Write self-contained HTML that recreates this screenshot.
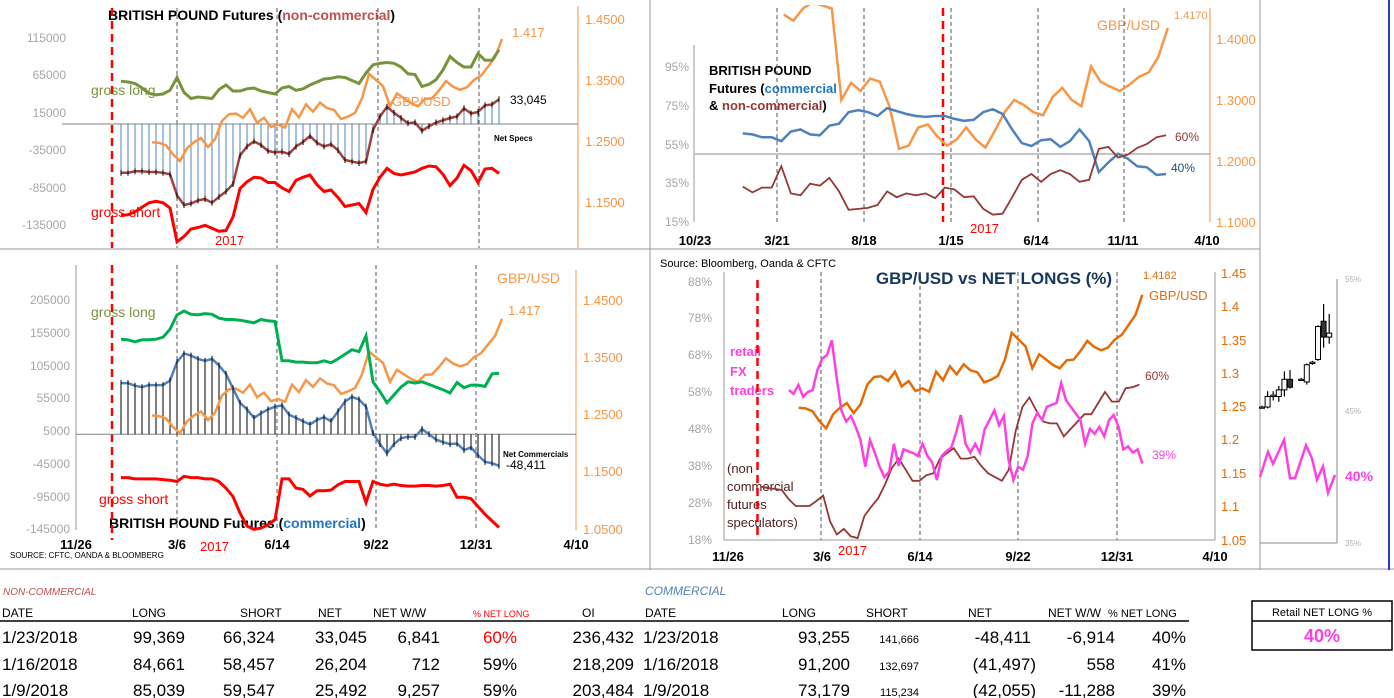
<!DOCTYPE html>
<html><head><meta charset="utf-8"><style>
html,body{margin:0;padding:0;background:#fff;}
svg{display:block;font-family:"Liberation Sans",sans-serif;}
.ax{fill:#a6a6a6;font-size:12px;}
.or{fill:#f79646;font-size:13px;}
.tk{fill:#000;font-size:13px;font-weight:bold;}
.tb{font-size:17px;fill:#000;}
.th{font-size:12px;fill:#000;}
</style></head><body>
<svg id="c" width="1394" height="698" viewBox="0 0 1394 698" xmlns="http://www.w3.org/2000/svg">
<rect width="1394" height="698" fill="#fff"/>
<!-- dividers -->
<line x1="650" y1="0" x2="650" y2="570" stroke="#999"/>
<line x1="0" y1="249" x2="1260" y2="249" stroke="#999"/>
<line x1="0" y1="569" x2="1394" y2="569" stroke="#999"/>
<line x1="1260" y1="0" x2="1260" y2="570" stroke="#999"/>
<line x1="1389" y1="0" x2="1389" y2="570" stroke="#1f3fd0" stroke-width="2"/>

<!-- PANEL 1 static -->
<g>
<text x="108" y="20" font-size="14" font-weight="bold">BRITISH POUND Futures (<tspan fill="#c0504d">non-commercial</tspan>)</text>
<g class="ax" text-anchor="end">
<text x="66" y="42">115000</text><text x="66" y="79">65000</text><text x="66" y="117">15000</text><text x="66" y="154">-35000</text><text x="66" y="192">-85000</text><text x="66" y="229">-135000</text></g>
<line x1="578" y1="6" x2="578" y2="248" stroke="#f79646"/>
<g class="or">
<text x="585" y="24">1.4500</text><text x="585" y="85">1.3500</text><text x="585" y="146">1.2500</text><text x="585" y="207">1.1500</text></g>
<text x="91" y="95" fill="#77933c" font-size="14">gross long</text>
<text x="91" y="217" fill="#ff0000" font-size="14">gross short</text>
<text x="215" y="245" fill="#ff0000" font-size="13">2017</text>
<text x="512" y="37" class="or">1.417</text>
<text x="510" y="104" font-size="12">33,045</text>
<text x="494" y="141" font-size="8" font-weight="bold">Net Specs</text>
<text x="392" y="106" fill="#f79646" font-size="13">GBP/USD</text>
</g>

<!-- PANEL 2 static -->
<g>
<line x1="76" y1="265" x2="76" y2="530" stroke="#999"/>
<g class="ax" text-anchor="end">
<text x="70" y="304">205000</text><text x="70" y="337">155000</text><text x="70" y="370">105000</text><text x="70" y="402">55000</text><text x="70" y="435">5000</text><text x="70" y="468">-45000</text><text x="70" y="501">-95000</text><text x="70" y="533">-145000</text></g>
<line x1="576" y1="270" x2="576" y2="530" stroke="#f79646"/>
<g class="or">
<text x="583" y="305">1.4500</text><text x="583" y="362">1.3500</text><text x="583" y="419">1.2500</text><text x="583" y="476">1.1500</text><text x="583" y="534">1.0500</text></g>
<g class="tk" text-anchor="middle">
<text x="76" y="549">11/26</text><text x="177" y="549">3/6</text><text x="277" y="549">6/14</text><text x="376" y="549">9/22</text><text x="476" y="549">12/31</text><text x="576" y="549">4/10</text></g>
<text x="200" y="551" fill="#ff0000" font-size="13">2017</text>
<text x="91" y="317" fill="#77933c" font-size="14">gross long</text>
<text x="99" y="504" fill="#ff0000" font-size="14">gross short</text>
<text x="109" y="528" font-size="14" font-weight="bold">BRITISH POUND Futures (<tspan fill="#1f77c0">commercial</tspan>)</text>
<text x="10" y="558" font-size="8">SOURCE: CFTC, OANDA &amp; BLOOMBERG</text>
<text x="497" y="283" fill="#f79646" font-size="14">GBP/USD</text>
<text x="508" y="315" class="or">1.417</text>
<text x="503" y="457" font-size="8" font-weight="bold">Net Commercials</text>
<text x="506" y="469" font-size="12">-48,411</text>
</g>

<!-- PANEL 3 static -->
<g>
<line x1="694" y1="45" x2="694" y2="222" stroke="#999"/>
<g class="ax" text-anchor="end">
<text x="689" y="71">95%</text><text x="689" y="110">75%</text><text x="689" y="149">55%</text><text x="689" y="187">35%</text><text x="689" y="226">15%</text></g>
<line x1="1210" y1="8" x2="1210" y2="222" stroke="#f79646"/>
<g class="or">
<text x="1216" y="44">1.4000</text><text x="1216" y="105">1.3000</text><text x="1216" y="166">1.2000</text><text x="1216" y="227">1.1000</text></g>
<line x1="695" y1="154" x2="1210" y2="154" stroke="#888"/>
<g class="tk" text-anchor="middle">
<text x="695" y="245">10/23</text><text x="777" y="245">3/21</text><text x="864" y="245">8/18</text><text x="951" y="245">1/15</text><text x="1036" y="245">6/14</text><text x="1123" y="245">11/11</text><text x="1207" y="245">4/10</text></g>
<text x="970" y="233" fill="#ff0000" font-size="13">2017</text>
<text x="709" y="75" font-size="13" font-weight="bold">BRITISH POUND</text>
<text x="709" y="93" font-size="13" font-weight="bold">Futures (<tspan fill="#1f77c0">commercial</tspan></text>
<text x="709" y="110" font-size="13" font-weight="bold">&amp; <tspan fill="#953735">non-commercial</tspan>)</text>
<text x="1097" y="30" fill="#f79646" font-size="14">GBP/USD</text>
<text x="1174" y="19" fill="#f79646" font-size="11">1.4170</text>
<text x="1175" y="141" fill="#953735" font-size="12">60%</text>
<text x="1171" y="172" fill="#1f4e79" font-size="12">40%</text>
</g>

<!-- PANEL 4 static -->
<g>
<text x="660" y="267" font-size="11">Source: Bloomberg, Oanda &amp; CFTC</text>
<text x="994" y="284" text-anchor="middle" fill="#17375e" font-size="17" font-weight="bold">GBP/USD vs NET LONGS (%)</text>
<line x1="724" y1="272" x2="724" y2="540" stroke="#999"/>
<g class="ax" text-anchor="end">
<text x="712" y="286">88%</text><text x="712" y="322">78%</text><text x="712" y="359">68%</text><text x="712" y="396">58%</text><text x="712" y="433">48%</text><text x="712" y="470">38%</text><text x="712" y="507">28%</text><text x="712" y="544">18%</text></g>
<line x1="1215" y1="272" x2="1215" y2="540" stroke="#999"/>
<g fill="#e36c09" font-size="13">
<text x="1221" y="278">1.45</text><text x="1221" y="311">1.4</text><text x="1221" y="345">1.35</text><text x="1221" y="378">1.3</text><text x="1221" y="411">1.25</text><text x="1221" y="444">1.2</text><text x="1221" y="478">1.15</text><text x="1221" y="511">1.1</text><text x="1221" y="545">1.05</text></g>
<g class="tk" text-anchor="middle">
<text x="728" y="561">11/26</text><text x="822" y="561">3/6</text><text x="920" y="561">6/14</text><text x="1018" y="561">9/22</text><text x="1117" y="561">12/31</text><text x="1215" y="561">4/10</text></g>
<text x="838" y="555" fill="#ff0000" font-size="13">2017</text>
<g fill="#ff40e0" font-size="13" font-weight="bold">
<text x="730" y="356">retail</text><text x="730" y="376">FX</text><text x="730" y="395">traders</text></g>
<g fill="#4a1f1f" font-size="13">
<text x="727" y="473">(non</text><text x="727" y="491">commercial</text><text x="727" y="509">futures</text><text x="727" y="527">speculators)</text></g>
<text x="1143" y="279" fill="#e36c09" font-size="11">1.4182</text>
<text x="1149" y="300" fill="#e36c09" font-size="13">GBP/USD</text>
<text x="1145" y="380" fill="#953735" font-size="12">60%</text>
<text x="1152" y="459" fill="#ff40e0" font-size="12">39%</text>
</g>

<!-- MINI PANEL static -->
<g>
<line x1="1337" y1="279" x2="1337" y2="543" stroke="#888"/>
<g fill="#b0b0b0" font-size="8">
<text x="1345" y="282">55%</text><text x="1345" y="414">45%</text><text x="1345" y="546">35%</text></g>
<line x1="1260" y1="543" x2="1337" y2="543" stroke="#888"/>
<text x="1345" y="481" fill="#ff40e0" font-size="14" font-weight="bold">40%</text>
</g>

<!-- TABLE -->
<g>
<text x="3" y="595" fill="#c0504d" font-size="10" font-style="italic">NON-COMMERCIAL</text>
<text x="645" y="595" fill="#4f81bd" font-size="12" font-style="italic">COMMERCIAL</text>
<g class="th">
<text x="2" y="617">DATE</text><text x="132" y="617">LONG</text><text x="240" y="617">SHORT</text><text x="318" y="617">NET</text><text x="373" y="617">NET W/W</text><text x="473" y="617" fill="#ff0000" font-size="9">% NET LONG</text><text x="582" y="617">OI</text><text x="645" y="617">DATE</text><text x="782" y="617">LONG</text><text x="866" y="617">SHORT</text><text x="968" y="617">NET</text><text x="1048" y="617">NET W/W</text><text x="1108" y="617" font-size="11">% NET LONG</text></g>
<line x1="0" y1="621" x2="1189" y2="621" stroke="#000" stroke-width="1.5"/>
<g class="tb"><text x="2" y="643">1/23/2018</text><text x="185" y="643" text-anchor="end">99,369</text><text x="275" y="643" text-anchor="end">66,324</text><text x="367" y="643" text-anchor="end">33,045</text><text x="440" y="643" text-anchor="end">6,841</text><text x="517" y="643" text-anchor="end" fill="#ff0000">60%</text><text x="634" y="643" text-anchor="end">236,432</text><text x="643" y="643">1/23/2018</text><text x="850" y="643" text-anchor="end">93,255</text><text x="919" y="643" text-anchor="end" font-size="11">141,666</text><text x="1031" y="643" text-anchor="end">-48,411</text><text x="1115" y="643" text-anchor="end">-6,914</text><text x="1186" y="643" text-anchor="end">40%</text></g>
<g class="tb"><text x="2" y="670">1/16/2018</text><text x="185" y="670" text-anchor="end">84,661</text><text x="275" y="670" text-anchor="end">58,457</text><text x="367" y="670" text-anchor="end">26,204</text><text x="440" y="670" text-anchor="end">712</text><text x="517" y="670" text-anchor="end">59%</text><text x="634" y="670" text-anchor="end">218,209</text><text x="643" y="670">1/16/2018</text><text x="850" y="670" text-anchor="end">91,200</text><text x="919" y="670" text-anchor="end" font-size="11">132,697</text><text x="1036" y="670" text-anchor="end">(41,497)</text><text x="1115" y="670" text-anchor="end">558</text><text x="1186" y="670" text-anchor="end">41%</text></g>
<g class="tb"><text x="2" y="696">1/9/2018</text><text x="185" y="696" text-anchor="end">85,039</text><text x="275" y="696" text-anchor="end">59,547</text><text x="367" y="696" text-anchor="end">25,492</text><text x="440" y="696" text-anchor="end">9,257</text><text x="517" y="696" text-anchor="end">59%</text><text x="634" y="696" text-anchor="end">203,484</text><text x="643" y="696">1/9/2018</text><text x="850" y="696" text-anchor="end">73,179</text><text x="919" y="696" text-anchor="end" font-size="11">115,234</text><text x="1036" y="696" text-anchor="end">(42,055)</text><text x="1115" y="696" text-anchor="end">-11,288</text><text x="1186" y="696" text-anchor="end">39%</text></g>
<rect x="1252" y="601" width="140" height="49" fill="none" stroke="#000" stroke-width="1.5"/>
<line x1="1252" y1="621" x2="1392" y2="621" stroke="#000" stroke-width="1.5"/>
<text x="1322" y="616" text-anchor="middle" font-size="11">Retail NET LONG %</text>
<text x="1322" y="642" text-anchor="middle" fill="#ff40e0" font-size="18" font-weight="bold">40%</text>
</g>
<g id="marks"></g>
</svg>
<script>
// ---- data (weekly CFTC from 2017-01-10, thousands) ----
const cftcStartDay = 45; // days after 2016-11-26
const ncNet = [-65,-65,-63,-63,-64,-64,-65,-67,-95,-108,-106,-102,-100,-105,-97,-90,-80,-42,-30,-23,-28,-36,-38,-37,-40,-30,-24,-16,-25,-30,-27,-35,-48,-50,-52,-50,-8,10,23,15,8,1,2,-9,-3,2,5,8,10,21,14,16,25,26,33];
const ncLong = [57,56,54,48,41,39,40,45,62,42,34,36,35,34,46,52,44,44,47,48,44,42,40,48,50,45,47,52,56,60,61,63,62,58,54,68,79,81,82,81,76,67,66,50,53,59,72,90,82,76,76,94,85,85,99];
const ncShort = [122,121,117,111,105,103,105,112,157,150,140,138,135,139,143,142,124,86,77,71,72,78,78,85,90,75,71,68,81,90,88,98,110,108,106,118,87,71,59,66,68,66,64,59,56,57,67,82,72,55,62,78,60,59,66];
const cmNet = [78,78,74,72,75,75,75,82,110,123,120,115,112,115,105,92,70,48,38,25,32,38,42,44,30,25,20,15,22,26,20,35,50,57,53,42,2,-15,-29,-15,-6,-4,-4,8,0,-8,-12,-15,-14,-24,-20,-32,-42,-44,-48];
const cmLong = [145,144,141,144,144,145,148,160,182,188,183,182,184,183,177,175,175,174,172,170,175,173,172,112,112,110,110,109,109,112,109,115,122,129,126,150,80,65,48,60,72,80,78,80,76,72,68,63,79,71,75,75,73,92,93];
const cmShort = [66,66,68,68,68,68,69,70,72,64,66,66,68,68,72,82,95,120,140,145,143,138,130,68,68,82,84,94,86,86,85,77,72,72,72,104,72,76,78,76,78,79,79,78,78,79,78,76,96,96,98,110,122,132,142];
// GBP/USD weekly from 2017-02-10
const gbpStartDay = 76;
const gbpWeekly = [1.248,1.247,1.243,1.228,1.217,1.238,1.248,1.255,1.240,1.253,1.283,1.294,1.295,1.288,1.302,1.280,1.288,1.273,1.277,1.272,1.302,1.289,1.310,1.298,1.313,1.304,1.301,1.286,1.290,1.296,1.320,1.360,1.350,1.340,1.307,1.328,1.320,1.312,1.307,1.319,1.320,1.333,1.348,1.339,1.334,1.338,1.350,1.357,1.372,1.387,1.417];
// Panel 3: long history (days after 2015-10-23)
const p3PctStart = 84, p3PctEnd = 828;
const commPct = [61,60.5,59,59,57,62,63,60.5,60,65,66,72,73,72,70,74,72.5,71,70,69.5,70,70,68.5,67.5,68,72,73.5,71,63,56,54.5,57.5,58,54,57,63,57,41,46,50.5,48,44,43.5,39.5,40];
const ncPct = [33.5,30.5,33,33,44,30,29,35,34,38,31,21.5,22,22.5,24,31,28,30,29,30,27.5,33,32,28,28.5,22,19,19.5,28,37,40,36,40,42,40,36,37,53,54,48.5,50,53.5,55.5,59,60];
const p3GbpStart = 156, p3GbpEnd = 831;
const gbpLong = [1.44,1.43,1.45,1.46,1.455,1.45,1.30,1.328,1.315,1.335,1.33,1.29,1.22,1.225,1.255,1.26,1.24,1.225,1.235,1.255,1.235,1.222,1.25,1.28,1.30,1.292,1.28,1.275,1.305,1.32,1.30,1.29,1.355,1.33,1.322,1.315,1.325,1.338,1.345,1.37,1.418];
// Panel 4
const p4NcStartDay = 38;
const p4NcPct = [32.4,32,31.8,31.5,29,27.2,27.2,27.2,28.5,30,23,19.5,21,19,18.5,24.5,27,29.3,33,37.5,40,37,34,34,35.5,36,40,41.5,42.8,40,40,40.5,38,36,35,34,37,47.5,54,56.5,53,50,49.5,49.5,46,48,50,52,52,55,58,55.4,55.4,59,59.3,60];
const retailStartDay = 66, retailStepDays = 4.866;
const retailPct = [58.5,57.5,59.9,56.7,58,58.5,64,67,68,72,62,53,50,51.5,48.6,45,37.8,45,41.6,37.8,35,36.5,44,38,42.5,42,41.5,40.7,44,40.7,39,34.2,40.7,42,43,47,51.8,44,41.6,44,41.6,48,50.4,53,49,51.5,39.6,34.2,37.8,37,40.7,49.6,52.3,50.5,54,54.5,55,60.4,55.8,54,52.3,50.5,44,48,46.7,48.6,46,50.4,51.8,48.6,42.5,43.3,41.6,42.5,38.7];
// Mini panel candles (trading-day index, % scale)
const candleDay = [0,1,2,3,4,5,7,8,9,10,11,12];
const candleOpen = [45.3,45.3,46.1,46.1,46.6,47.4,47.4,47.2,48.6,48.9,51.8,50.6];
const candleClose = [45.3,46.1,46.2,46.6,47.4,46.8,47.4,48.5,48.7,51.4,50.6,50.9];
const candleHigh = [45.4,46.5,46.5,46.9,48.0,48.1,47.5,48.6,48.8,51.5,53.1,52.35];
const candleLow = [45.2,45.2,45.8,45.7,46.1,46.7,47.3,47.0,48.5,48.8,49.8,50.1];
const miniRetail = [40.0,41.9,41.0,42.8,39.9,39.9,42.4,41.4,39.8,40.8,38.8,40.15];
const miniRetailPos = [0,8,13,24,30,35,46,52,57,63,68,75];

// ---- drawing ----
const NS = 'http://www.w3.org/2000/svg';
const G = document.getElementById('marks');
function el(tag, a, parent){const e=document.createElementNS(NS,tag);for(const k in a)e.setAttribute(k,a[k]);(parent||G).appendChild(e);return e;}
function pathD(xs, ys){return xs.map((x,i)=>(i?'L':'M')+x.toFixed(1)+','+ys[i].toFixed(1)).join('');}
function vline(x,y1,y2,color,dash,w){return el('line',{x1:x,y1:y1,x2:x,y2:y2,stroke:color,'stroke-width':w||1,'stroke-dasharray':dash||'none'});}

// scales
const p1x = d => 76 + d;
const p1y = v => 124 - v*0.75;
const p1r = v => 19 + (1.45 - v)*610;
const p2x = d => 76 + d;
const p2y = v => 434.3 - v*0.656;
const p2r = v => 300 + (1.45 - v)*572;
const p3x = d => 695 + d*0.569;
const p3y = v => 145 - (v - 55)*1.935;
const p3r = v => 161 - (v - 1.2)*610;
const p4x = d => 724 + d*0.982;
const p4y = v => 540 - (v - 18)*3.7;
const p4r = v => 540 - (v - 1.05)*668;
const mx = d => 1262 + d*5.6;
const my = v => 543 - (v - 35)*13.2;

const cftcDays = ncNet.map((_,i)=>cftcStartDay + 7*i);
const gbpDays = gbpWeekly.map((_,i)=>gbpStartDay + 7*i);

// clip for panel 3
const defs = el('defs',{});
const cp = el('clipPath',{id:'p3clip'},defs);
el('rect',{x:650,y:5,width:610,height:244},cp);

// ----- Panel 1 -----
[177,277,378,479].forEach(x=>{
  const g = vline(x,8,248,'#555','4,3');
  
  
});
let e = vline(112,8,248,'#ff0000','8,5',2.5);


e = el('line',{x1:62,y1:124,x2:578,y2:124,stroke:'#808080'});


ncNet.forEach((v,i)=>{
  const b = vline(p1x(cftcDays[i]),p1y(0),p1y(v),'#4f81bd');
  
  
});
e = el('path',{d:pathD(gbpDays.map(p1x),gbpWeekly.map(p1r)),fill:'none',stroke:'#f79646','stroke-width':2.5});


e = el('path',{d:pathD(cftcDays.map(p1x),ncLong.map(p1y)),fill:'none',stroke:'#77933c','stroke-width':3});


e = el('path',{d:pathD(cftcDays.map(p1x),ncShort.map(v=>p1y(-v))),fill:'none',stroke:'#ff0000','stroke-width':3});


e = el('path',{d:pathD(cftcDays.map(p1x),ncNet.map(p1y)),fill:'none',stroke:'#a0413e','stroke-width':2.5});


ncNet.forEach((v,i)=>{
  const m = vline(p1x(cftcDays[i]),p1y(v)-3,p1y(v)+3,'#000');
  
  
});

// ----- Panel 2 -----
[177,277,376,476].forEach(x=>{
  const g = vline(x,265,530,'#555','4,3');
  
  
});
e = vline(112,265,540,'#ff0000','8,5',2.5);


e = el('line',{x1:76,y1:434.3,x2:576,y2:434.3,stroke:'#808080'});


cmNet.forEach((v,i)=>{
  const b = vline(p2x(cftcDays[i]),p2y(0),p2y(v),'#000');
  
  
});
e = el('path',{d:pathD(gbpDays.map(p2x),gbpWeekly.map(p2r)),fill:'none',stroke:'#f79646','stroke-width':2.5});


e = el('path',{d:pathD(cftcDays.map(p2x),cmLong.map(p2y)),fill:'none',stroke:'#00b050','stroke-width':3});


e = el('path',{d:pathD(cftcDays.map(p2x),cmShort.map(v=>p2y(-v))),fill:'none',stroke:'#ff0000','stroke-width':3});


e = el('path',{d:pathD(cftcDays.map(p2x),cmNet.map(p2y)),fill:'none',stroke:'#4f81bd','stroke-width':2.5});


cmNet.forEach((v,i)=>{
  const m = vline(p2x(cftcDays[i]),p2y(v)-3,p2y(v)+3,'#000');
  
  
});

// ----- Panel 3 -----
[777,864,951,1038,1124].forEach(x=>{
  const g = vline(x,8,222,'#555','4,3');
  
  
});
e = vline(943,8,222,'#ff0000','8,5',2.5);


const p3dayAt = (i,n,s,en)=> s + (en - s)*i/(n-1);
e = el('path',{d:pathD(gbpLong.map((_,i)=>p3x(p3dayAt(i,gbpLong.length,p3GbpStart,p3GbpEnd))),gbpLong.map(p3r)),fill:'none',stroke:'#f79646','stroke-width':2.5,'clip-path':'url(#p3clip)'});


e = el('path',{d:pathD(commPct.map((_,i)=>p3x(p3dayAt(i,commPct.length,p3PctStart,p3PctEnd))),commPct.map(p3y)),fill:'none',stroke:'#4f81bd','stroke-width':2.5});


e = el('path',{d:pathD(ncPct.map((_,i)=>p3x(p3dayAt(i,ncPct.length,p3PctStart,p3PctEnd))),ncPct.map(p3y)),fill:'none',stroke:'#953735','stroke-width':1.8});



// ----- Panel 4 -----
[821,920,1018,1117].forEach(x=>{
  const g = vline(x,272,540,'#555','4,3');
  
  
});
e = vline(757.5,280,540,'#ff0000','8,5',2.5);


e = el('line',{x1:724,y1:540,x2:1215,y2:540,stroke:'#999'});


e = el('path',{d:pathD(gbpDays.map(p4x),gbpWeekly.map(p4r)),fill:'none',stroke:'#e36c09','stroke-width':2.5});


e = el('path',{d:pathD(p4NcPct.map((_,i)=>p4x(p4NcStartDay+7*i)),p4NcPct.map(p4y)),fill:'none',stroke:'#953735','stroke-width':1.8});


e = el('path',{d:pathD(retailPct.map((_,i)=>p4x(retailStartDay+retailStepDays*i)),retailPct.map(p4y)),fill:'none',stroke:'#ff40e0','stroke-width':2.5});



// ----- Mini panel -----
candleDay.forEach((d,i)=>{
  const x = mx(d);
  const w = vline(x,my(candleHigh[i]),my(candleLow[i]),'#000',null,1.2);
  
  
  const top = Math.min(my(candleOpen[i]),my(candleClose[i]));
  const h = Math.max(1.2,Math.abs(my(candleOpen[i])-my(candleClose[i])));
  const r = el('rect',{x:x-2.5,y:top,width:5,height:h,fill:candleClose[i]<candleOpen[i]?'#333':'#f8f8f8',stroke:'#000','stroke-width':1});
  
  
});
e = el('path',{d:pathD(miniRetailPos.map(p=>1260+p),miniRetail.map(my)),fill:'none',stroke:'#ff40e0','stroke-width':2.5});


</script>
</body></html>
